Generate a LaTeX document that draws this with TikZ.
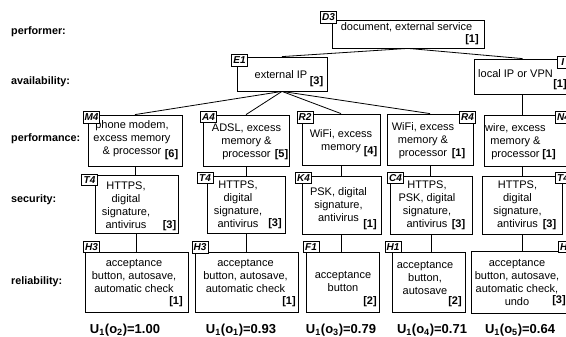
\documentclass[tikz,border=0pt]{standalone}
\usepackage{fontspec}
\setmainfont{Liberation Sans}
\usetikzlibrary{fit}
\tikzset{
  box/.style={draw=black, line width=0.8pt, inner sep=0pt},
  txt/.style={align=center, inner sep=0pt, font=\fontsize{11}{13}\selectfont},
  num/.style={inner sep=0pt, font=\fontsize{11}{13}\selectfont\bfseries},
  tagbox/.style={draw=black, fill=white, line width=0.8pt, inner sep=1.2pt, minimum width=16pt, minimum height=11.5pt, font=\fontsize{10}{11}\selectfont\bfseries\itshape},
  rowlab/.style={anchor=base west, inner sep=0pt, font=\fontsize{10.8}{12}\selectfont\bfseries},
  util/.style={anchor=base, inner sep=0pt, font=\fontsize{13}{15}\selectfont\bfseries},
  conn/.style={draw=black, line width=0.8pt},
}
\newcommand{\ls}{\strut}
\begin{document}
\begin{tikzpicture}[x=1pt,y=-1pt]
\useasboundingbox (0,0) rectangle (566,337);
\clip (0,0) rectangle (566,337);
\fill[white] (0,0) rectangle (566,337);

% row labels
\node[rowlab] (Lperf) at (11,35) {performer:};
\node[rowlab] (Lavail) at (11,84.5) {availability:};
\node[rowlab] (Lperfm) at (11,142) {performance:};
\node[rowlab] (Lsec) at (11,202) {security:};
\node[rowlab] (Lrel) at (11,284) {reliability:};

% boxes
\node[box, fit={(332,20) (484,48)}] (D3) {};
\node[box, fit={(237,57) (327,91)}] (E1) {};
\node[box, fit={(474,59) (571,94)}] (LI) {};
\node[box, fit={(88,115) (182,166)}] (M4) {};
\node[box, fit={(203,115) (289,166)}] (A4) {};
\node[box, fit={(302,114) (380,165)}] (R2) {};
\node[box, fit={(387,114) (473,165)}] (R4) {};
\node[box, fit={(484,115) (568,166)}] (N4) {};
\node[box, fit={(95,175) (178,233)}] (T4a) {};
\node[box, fit={(207,176) (285,233)}] (T4b) {};
\node[box, fit={(302,176) (381,234)}] (K4) {};
\node[box, fit={(390,176) (472,234)}] (C4) {};
\node[box, fit={(482,176) (562,234)}] (T4e) {};
\node[box, fit={(85,252) (188,312)}] (H3a) {};
\node[box, fit={(195,252) (298,312)}] (H3b) {};
\node[box, fit={(306,252) (379,312)}] (F1) {};
\node[box, fit={(392,252) (465,312)}] (H1) {};
\node[box, fit={(471,251) (573,313)}] (H5) {};

% connectors
\draw[conn] (D3.south) -- (E1.north);
\draw[conn] (D3.south) -- (LI.north);
\draw[conn] (E1.south) -- (M4.north);
\draw[conn] (E1.south) -- (A4.north);
\draw[conn] (E1.south) -- (R2.north);
\draw[conn] (E1.south) -- (R4.north);
\draw[conn] (LI.south) -- (LI.south |- N4.north);
\draw[conn] (M4.south) -- (M4.south |- T4a.north);
\draw[conn] (A4.south) -- (A4.south |- T4b.north);
\draw[conn] (R2.south) -- (R2.south |- K4.north);
\draw[conn] (R4.south) -- (R4.south |- C4.north);
\draw[conn] (T4e.north |- N4.south) -- (T4e.north);
\draw[conn] (T4a.south) -- (T4a.south |- H3a.north);
\draw[conn] (T4b.south) -- (T4b.south |- H3b.north);
\draw[conn] (K4.south) -- (K4.south |- F1.north);
\draw[conn] (C4.south) -- (C4.south |- H1.north);
\draw[conn] (T4e.south) -- (T4e.south |- H5.north);

% texts
\node[txt] (D3t) at (406.5,28) {\ls document, external service};
\node[txt] (E1t) at (281,75.5) {\ls external IP};
\node[txt] (LIt) at (515.5,74.5) {\ls local IP or VPN};
\node[txt] (M4t) at (132,139) {\ls phone modem,\\\ls excess memory\\\ls \& processor};
\node[txt] (A4t) at (246.5,141.5) {\ls ADSL, excess\\\ls memory \&\\\ls processor};
\node[txt] (R2t) at (341,141) {\ls WiFi, excess\\\ls memory};
\node[txt] (R4t) at (423,141) {\ls WiFi, excess\\\ls memory \&\\\ls processor};
\node[txt] (N4t) at (515.5,141.5) {\ls wire, excess\\\ls memory \&\\\ls processor};
\node[txt] (T4at) at (126,206) {\ls HTTPS,\\\ls digital\\\ls signature,\\\ls antivirus};
\node[txt] (T4bt) at (238,205.5) {\ls HTTPS,\\\ls digital\\\ls signature,\\\ls antivirus};
\node[txt] (K4t) at (338.5,206) {\ls PSK, digital\\\ls signature,\\\ls antivirus};
\node[txt] (C4t) at (427,205.5) {\ls HTTPS,\\\ls PSK, digital\\\ls signature,\\\ls antivirus};
\node[txt] (T4et) at (517.5,205.5) {\ls HTTPS,\\\ls digital\\\ls signature,\\\ls antivirus};
\node[txt] (H3at) at (134,277) {\ls acceptance\\\ls button, autosave,\\\ls automatic check};
\node[txt] (H3bt) at (245.5,277) {\ls acceptance\\\ls button, autosave,\\\ls automatic check};
\node[txt] (F1t) at (343,282.5) {\ls acceptance\\\ls button};
\node[txt] (H1t) at (425,279) {\ls acceptance\\\ls button,\\\ls autosave};
\node[txt] (H5t) at (517,283) {\ls acceptance\\\ls button, autosave,\\\ls automatic check,\\\ls undo};

% numbers
\node[num] (D3n) at (472,40) {[1]};
\node[num] (E1n) at (316.5,82) {[3]};
\node[num] (LIn) at (560,85) {[1]};
\node[num] (M4n) at (171.5,155) {[6]};
\node[num] (A4n) at (281.5,155) {[5]};
\node[num] (R2n) at (370.5,152) {[4]};
\node[num] (R4n) at (458.5,154) {[1]};
\node[num] (N4n) at (549,155) {[1]};
\node[num] (T4an) at (169.5,225.5) {[3]};
\node[num] (T4bn) at (275,224) {[3]};
\node[num] (K4n) at (370,225) {[1]};
\node[num] (C4n) at (458.5,224.5) {[3]};
\node[num] (T4en) at (549.5,224.5) {[3]};
\node[num] (H3an) at (176,302) {[1]};
\node[num] (H3bn) at (289,302) {[1]};
\node[num] (F1n) at (370,302) {[2]};
\node[num] (H1n) at (455,302) {[2]};
\node[num] (H5n) at (559,301) {[3]};

% tags
\node[tagbox] (D3g) at (328.5,17.5) {D3};
\node[tagbox] (E1g) at (239.5,60.5) {E1};
\node[tagbox] (LIg) at (565.5,62.5) {I\phantom{1}};
\node[tagbox] (M4g) at (91.5,117.5) {M4};
\node[tagbox] (A4g) at (208.5,117) {A4};
\node[tagbox] (R2g) at (305,117.5) {R2};
\node[tagbox] (R4g) at (467.5,117.5) {R4};
\node[tagbox] (N4g) at (563.5,117.5) {N4};
\node[tagbox] (T4ag) at (89.5,180) {T4};
\node[tagbox] (T4bg) at (205,178) {T4};
\node[tagbox] (K4g) at (303.5,178) {K4};
\node[tagbox] (C4g) at (395.5,178) {C4};
\node[tagbox] (T4eg) at (563,178) {T4};
\node[tagbox] (H3ag) at (91.5,247) {H3};
\node[tagbox] (H3bg) at (200,247.5) {H3};
\node[tagbox] (F1g) at (311,247) {F1};
\node[tagbox] (H1g) at (393,247) {H1};
\node[tagbox] (H5g) at (566.5,247) {H\phantom{3}};

% utilities
\node[util] (U2) at (125,333.5) {U\textsubscript{1}(o\textsubscript{2})=1.00};
\node[util] (U1) at (241,333.5) {U\textsubscript{1}(o\textsubscript{1})=0.93};
\node[util] (U3) at (341,333.5) {U\textsubscript{1}(o\textsubscript{3})=0.79};
\node[util] (U4) at (432,333.5) {U\textsubscript{1}(o\textsubscript{4})=0.71};
\node[util] (U5) at (520,333.5) {U\textsubscript{1}(o\textsubscript{5})=0.64};
\end{tikzpicture}
\end{document}
